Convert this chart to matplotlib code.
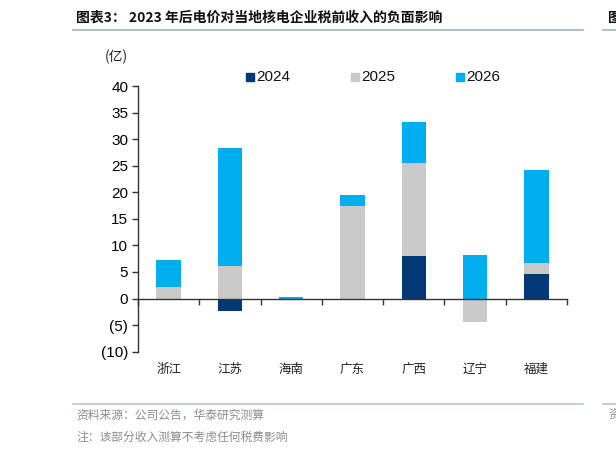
import numpy as np
import matplotlib
matplotlib.use('Agg')
import matplotlib.pyplot as plt
from matplotlib.patches import Rectangle
from matplotlib.lines import Line2D

plt.rcParams['font.family'] = ['Liberation Sans', 'Noto Sans CJK SC']

# data (亿)
provinces = ['浙江', '江苏', '海南', '广东', '广西', '辽宁', '福建']
years = ['2024', '2025', '2026']
v2024 = [0.0, -2.3, 0.0, -0.3, 8.0, 0.0, 4.65]
v2025 = [2.2, 6.1, 0.0, 17.5, 17.5, -4.4, 2.0]
v2026 = [5.1, 22.2, 0.2, 2.0, 7.7, 8.2, 17.45]
colors = ['#003878', '#C9C9C9', '#00AEEF']
yticks = [40, 35, 30, 25, 20, 15, 10, 5, 0, -5, -10]
ytick_labels = ['40', '35', '30', '25', '20', '15', '10', '5', '0', '(5)', '(10)']

fig = plt.figure(figsize=(6.16, 4.55), dpi=100)
ax = fig.add_axes([138/616, 1-351.7/455, (567-138)/616, (351.7-86)/455])

x = np.arange(len(provinces))
pos_bottom = np.zeros(len(provinces))
neg_bottom = np.zeros(len(provinces))
for vals, c in zip([v2024, v2025, v2026], colors):
    vals = np.array(vals)
    bottoms = np.where(vals >= 0, pos_bottom, neg_bottom)
    ax.bar(x, vals, width=0.4, bottom=bottoms, color=c, zorder=2)
    pos_bottom = pos_bottom + np.clip(vals, 0, None)
    neg_bottom = neg_bottom + np.clip(vals, None, 0)

ax.set_xlim(-0.5, 6.5)
ax.set_ylim(-10, 40)
ax.set_yticks(yticks)
ax.set_yticklabels(ytick_labels, fontsize=11)
ax.tick_params(axis='y', direction='out', length=4, width=1, color='#333333', pad=3)

ax.spines['top'].set_visible(False)
ax.spines['right'].set_visible(False)
ax.spines['bottom'].set_position(('data', 0))
ax.spines['bottom'].set_zorder(3)
for s in ['left', 'bottom']:
    ax.spines[s].set_color('#333333')
    ax.spines[s].set_linewidth(1)
ax.set_xticks(np.arange(-0.5, 7, 1))
ax.set_xticklabels([])
ax.tick_params(axis='x', direction='out', length=4, width=1, color='#333333')

for i, p in enumerate(provinces):
    ax.text(i, -13.3, p, ha='center', va='center', fontsize=9,
            family=['Noto Sans CJK SC'], color='#222222', clip_on=False)

# legend
for xp, lab, c in zip([250, 355, 460], years, colors):
    fig.patches.append(Rectangle(((xp-4)/616, 1-81/455), 8/616, 8/455,
                                 transform=fig.transFigure, color=c))
    fig.text((xp+6)/616, 1-77/455, lab, ha='left', va='center', fontsize=11, color='#111111')

fig.text(105/616, 1-57/455, '(亿)', ha='left', va='center', fontsize=10,
         family=['Noto Sans CJK SC'], color='#222222')

# title, rules, footnotes
fig.text(76/616, 1-18/455, '图表3： 2023 年后电价对当地核电企业税前收入的负面影响',
         ha='left', va='center', fontsize=10, fontweight='bold',
         family=['Noto Sans CJK SC'], color='#111111')
fig.add_artist(Line2D([73/616, 583/616], [1-30/455, 1-30/455], color='#9FB3C8', lw=1.2))
fig.add_artist(Line2D([603/616, 1.0], [1-30/455, 1-30/455], color='#9FB3C8', lw=1.2))
fig.text(608/616, 1-18/455, '图', ha='left', va='center', fontsize=10, fontweight='bold',
         family=['Noto Sans CJK SC'], color='#111111')
fig.add_artist(Line2D([73/616, 583/616], [1-404/455, 1-404/455], color='#B5C7D9', lw=1.2))
fig.add_artist(Line2D([603/616, 1.0], [1-404/455, 1-404/455], color='#B5C7D9', lw=1.2))
fig.text(76/616, 1-415/455, '资料来源：公司公告，华泰研究测算', ha='left', va='center',
         fontsize=8.5, family=['Noto Sans CJK SC'], color='#8C8C8C')
fig.text(76/616, 1-437/455, '注：该部分收入测算不考虑任何税费影响', ha='left', va='center',
         fontsize=8.5, family=['Noto Sans CJK SC'], color='#8C8C8C')
fig.text(608/616, 1-415/455, '资', ha='left', va='center',
         fontsize=8.5, family=['Noto Sans CJK SC'], color='#8C8C8C')

fig.savefig('out.png', dpi=100)
